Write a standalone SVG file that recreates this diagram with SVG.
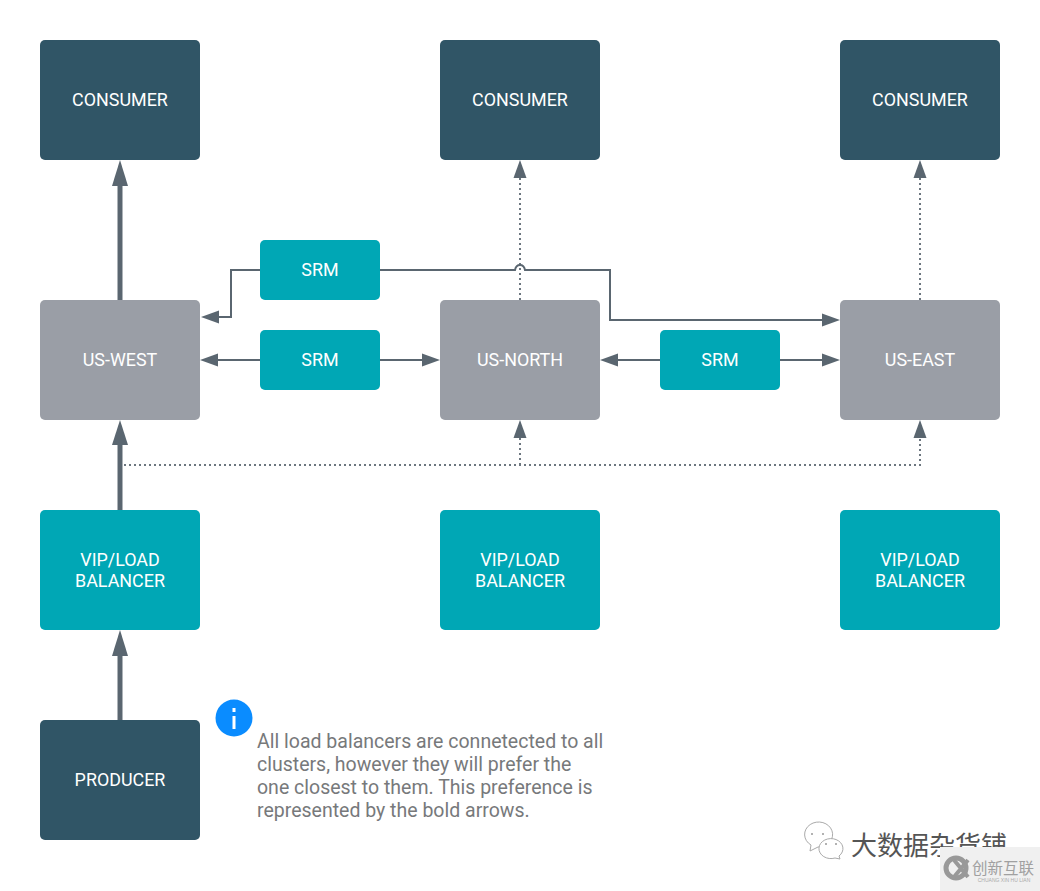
<svg xmlns="http://www.w3.org/2000/svg" width="1040" height="891" viewBox="0 0 1040 891">
<style>
text{font-family:Roboto,"Liberation Sans",sans-serif;font-size:17.9px;fill:#fff;text-anchor:middle}
.dark{fill:#305566}.gray{fill:#9a9ea6}.teal{fill:#00a7b5}
.c{fill:none;stroke:#5a6670;stroke-width:2}
.b{fill:none;stroke:#5a6670;stroke-width:5}
.d{fill:none;stroke:#6c767f;stroke-width:2;stroke-dasharray:2 3}
.h{fill:#5a6670}
.note{fill:#77797b;font-size:19.5px;text-anchor:start}
.wm{font-family:"Noto Sans CJK SC",sans-serif;text-anchor:start}
</style>
<rect width="1040" height="891" fill="#fff"/>
<g id="connectors">
<path class="b" d="M120 300V184"/><path class="h" d="M120 160l8 26h-16z"/>
<path class="b" d="M120 510V444"/><path class="h" d="M120 420l8 25h-16z"/>
<path class="b" d="M120 720V654"/><path class="h" d="M120 630l8 26h-16z"/>
<path class="d" d="M520 300V178"/><path class="h" d="M520 160l6.500 18h-13z"/>
<path class="d" d="M920 300V178"/><path class="h" d="M920 160l6.500 18h-13z"/>
<path class="d" d="M124 465H920V438M520 465V438"/>
<path class="h" d="M520 420l6.500 18h-13z"/><path class="h" d="M920 420l6.500 18h-13z"/>
<path class="c" d="M260 270H231V317H218"/><path class="h" d="M201 317l18-6.500v13z"/>
<path class="c" d="M380 270H515q1-5 5-5t5 5H610V320H822"/><path class="h" d="M840 320l-18-6.500v13z"/>
<path class="c" d="M260 360H218"/><path class="h" d="M200 360l18-6.500v13z"/>
<path class="c" d="M380 360H422"/><path class="h" d="M440 360l-18-6.500v13z"/>
<path class="c" d="M660 360H618"/><path class="h" d="M600 360l18-6.500v13z"/>
<path class="c" d="M780 360H822"/><path class="h" d="M840 360l-18-6.500v13z"/>
</g>
<g id="consumer-west"><rect class="dark" x="40" y="40" width="160" height="120" rx="5"/><text x="120" y="106">CONSUMER</text></g>
<g id="consumer-north"><rect class="dark" x="440" y="40" width="160" height="120" rx="5"/><text x="520" y="106">CONSUMER</text></g>
<g id="consumer-east"><rect class="dark" x="840" y="40" width="160" height="120" rx="5"/><text x="920" y="106">CONSUMER</text></g>
<g id="srm-top"><rect class="teal" x="260" y="240" width="120" height="60" rx="5"/><text x="320" y="276">SRM</text></g>
<g id="srm-west"><rect class="teal" x="260" y="330" width="120" height="60" rx="5"/><text x="320" y="366">SRM</text></g>
<g id="srm-east"><rect class="teal" x="660" y="330" width="120" height="60" rx="5"/><text x="720" y="366">SRM</text></g>
<g id="us-west"><rect class="gray" x="40" y="300" width="160" height="120" rx="5"/><text x="120" y="366">US-WEST</text></g>
<g id="us-north"><rect class="gray" x="440" y="300" width="160" height="120" rx="5"/><text x="520" y="366">US-NORTH</text></g>
<g id="us-east"><rect class="gray" x="840" y="300" width="160" height="120" rx="5"/><text x="920" y="366">US-EAST</text></g>
<g id="lb-west"><rect class="teal" x="40" y="510" width="160" height="120" rx="5"/><text x="120" y="566">VIP/LOAD</text><text x="120" y="587">BALANCER</text></g>
<g id="lb-north"><rect class="teal" x="440" y="510" width="160" height="120" rx="5"/><text x="520" y="566">VIP/LOAD</text><text x="520" y="587">BALANCER</text></g>
<g id="lb-east"><rect class="teal" x="840" y="510" width="160" height="120" rx="5"/><text x="920" y="566">VIP/LOAD</text><text x="920" y="587">BALANCER</text></g>
<g id="producer"><rect class="dark" x="40" y="720" width="160" height="120" rx="5"/><text x="120" y="786">PRODUCER</text></g>
<g id="info-note">
<circle cx="234" cy="718" r="18.500" fill="#0a8cff"/>
<rect x="232.500" y="716" width="3" height="13" fill="#fff"/><rect x="232.500" y="708" width="3" height="4" fill="#fff"/>
<text class="note" x="257" y="748">All load balancers are connetected to all</text>
<text class="note" x="257" y="771">clusters, however they will prefer the</text>
<text class="note" x="257" y="794">one closest to them. This preference is</text>
<text class="note" x="257" y="817">represented by the bold arrows.</text>
</g>
<g id="watermark">
<g fill="#fff" stroke="#aaa" stroke-width="1">
<path d="M810 851l1-6a14 12.500 0 1 1 7 2z"/>
<path d="M840 859l-1-3a12 10 0 1 0-4 2z"/>
</g>
<g fill="#999"><circle cx="812" cy="834" r="1"/><circle cx="823" cy="834" r="1"/><circle cx="826" cy="844" r="1"/><circle cx="836" cy="844" r="1"/></g>
<text class="wm" x="851" y="855" style="font-size:26px;fill:#555">大数据杂货铺</text>
<rect x="940" y="847" width="100" height="44" fill="#f0f0f0"/>
<circle cx="956" cy="868" r="10" fill="none" stroke="#999" stroke-width="5"/>
<path d="M954 860l14 17M968 860l-14 17" stroke="#999" stroke-width="4"/>
<text class="wm" x="972" y="874" style="font-size:15.500px;fill:#a0a0a0">创新互联</text>
<text x="1004" y="881.500" style="font-size:5px;fill:#aaa;font-family:'Liberation Sans',sans-serif">CHUANG XIN HU LIAN</text>
</g>
</svg>
